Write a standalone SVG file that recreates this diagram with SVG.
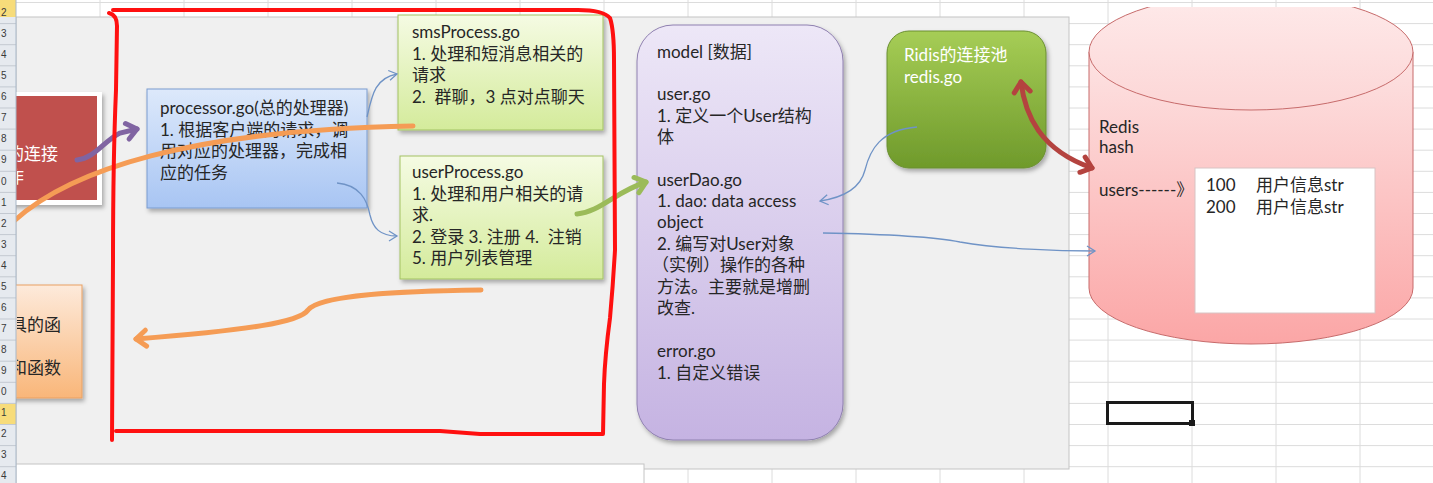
<svg xmlns="http://www.w3.org/2000/svg" width="1433" height="483" viewBox="0 0 1433 483">
<defs>
<style>
.t{font-family:Lato,"Noto Sans CJK SC","Liberation Sans",sans-serif;font-size:17px;fill:#262626}
.tw{font-family:Lato,"Noto Sans CJK SC","Liberation Sans",sans-serif;font-size:17px;fill:#ffffff}
.hdr{font-family:"Liberation Sans",sans-serif;font-size:10px;fill:#3a3a3a}
.grid line{stroke:#dcdcdc;stroke-width:1}
.thin{fill:none;stroke:#6f93c6;stroke-width:1.3}
.thick{fill:none;stroke-width:5;stroke-linecap:round}
.red{fill:none;stroke:#ff1010;stroke-width:4;stroke-linecap:round;stroke-linejoin:round}
</style>
<linearGradient id="gBlue" x1="0" y1="0" x2="0" y2="1"><stop offset="0" stop-color="#dde9fb"/><stop offset="1" stop-color="#a8c5f3"/></linearGradient>
<linearGradient id="gLime" x1="0" y1="0" x2="0" y2="1"><stop offset="0" stop-color="#f5fbe3"/><stop offset="1" stop-color="#d4eb9b"/></linearGradient>
<linearGradient id="gPurple" x1="0" y1="0" x2="0" y2="1"><stop offset="0" stop-color="#ede7f7"/><stop offset="1" stop-color="#c5b3e2"/></linearGradient>
<linearGradient id="gGreen" x1="0" y1="0" x2="0" y2="1"><stop offset="0" stop-color="#a6cd56"/><stop offset="1" stop-color="#6f9a2b"/></linearGradient>
<linearGradient id="gOrange" x1="0" y1="0" x2="0" y2="1"><stop offset="0" stop-color="#fdeadb"/><stop offset="1" stop-color="#f9b679"/></linearGradient>
<linearGradient id="gCyl" x1="0" y1="0" x2="0" y2="1"><stop offset="0" stop-color="#fde3e3"/><stop offset="1" stop-color="#fba6a6"/></linearGradient>
<linearGradient id="gCylTop" x1="0" y1="0" x2="0" y2="1"><stop offset="0" stop-color="#feeaea"/><stop offset="1" stop-color="#fcd6d6"/></linearGradient>
<filter id="sh" x="-20%" y="-20%" width="140%" height="140%"><feDropShadow dx="2" dy="3" stdDeviation="2" flood-color="#000" flood-opacity="0.3"/></filter>
<clipPath id="cylClip"><rect x="1060" y="7" width="373" height="476"/></clipPath>
<clipPath id="leftClip"><rect x="17" y="0" width="200" height="483"/></clipPath>
<marker id="aP" viewBox="-14 -12 18 24" markerWidth="18" markerHeight="24" refX="0" refY="0" orient="auto" markerUnits="userSpaceOnUse"><path d="M-10 -8 L0 0 L-10 8" fill="none" stroke="#8064a2" stroke-width="5" stroke-linecap="round" stroke-linejoin="round"/></marker>
<marker id="aO" viewBox="-14 -12 18 24" markerWidth="18" markerHeight="24" refX="0" refY="0" orient="auto" markerUnits="userSpaceOnUse"><path d="M-10 -8 L0 0 L-10 8" fill="none" stroke="#f59c55" stroke-width="5" stroke-linecap="round" stroke-linejoin="round"/></marker>
<marker id="aG" viewBox="-14 -12 18 24" markerWidth="18" markerHeight="24" refX="0" refY="0" orient="auto" markerUnits="userSpaceOnUse"><path d="M-10 -8 L0 0 L-10 8" fill="none" stroke="#9bbb59" stroke-width="5" stroke-linecap="round" stroke-linejoin="round"/></marker>
<marker id="aR" viewBox="-14 -12 18 24" markerWidth="18" markerHeight="24" refX="0" refY="0" orient="auto-start-reverse" markerUnits="userSpaceOnUse"><path d="M-10 -8 L0 0 L-10 8" fill="none" stroke="#b4433f" stroke-width="5" stroke-linecap="round" stroke-linejoin="round"/></marker>
<marker id="aB" viewBox="-10 -7 12 14" markerWidth="12" markerHeight="14" refX="0" refY="0" orient="auto" markerUnits="userSpaceOnUse"><path d="M-8 -5 L0 0 L-8 5" fill="none" stroke="#6f93c6" stroke-width="1.3"/></marker>
</defs>

<rect x="0" y="0" width="1433" height="483" fill="#ffffff"/>

<g class="grid">
<line x1="100" y1="0" x2="100" y2="483"/><line x1="184" y1="0" x2="184" y2="483"/><line x1="268" y1="0" x2="268" y2="483"/><line x1="352" y1="0" x2="352" y2="483"/><line x1="436" y1="0" x2="436" y2="483"/><line x1="520" y1="0" x2="520" y2="483"/><line x1="604" y1="0" x2="604" y2="483"/><line x1="688" y1="0" x2="688" y2="483"/><line x1="772" y1="0" x2="772" y2="483"/><line x1="856" y1="0" x2="856" y2="483"/><line x1="940" y1="0" x2="940" y2="483"/><line x1="1024" y1="0" x2="1024" y2="483"/><line x1="1108" y1="0" x2="1108" y2="483"/><line x1="1192" y1="0" x2="1192" y2="483"/><line x1="1276" y1="0" x2="1276" y2="483"/><line x1="1360" y1="0" x2="1360" y2="483"/>
<line x1="16" y1="2.5" x2="1433" y2="2.5"/><line x1="16" y1="23.6" x2="1433" y2="23.6"/><line x1="16" y1="44.7" x2="1433" y2="44.7"/><line x1="16" y1="65.8" x2="1433" y2="65.8"/><line x1="16" y1="86.9" x2="1433" y2="86.9"/><line x1="16" y1="108" x2="1433" y2="108"/><line x1="16" y1="129.1" x2="1433" y2="129.1"/><line x1="16" y1="150.2" x2="1433" y2="150.2"/><line x1="16" y1="171.3" x2="1433" y2="171.3"/><line x1="16" y1="192.4" x2="1433" y2="192.4"/><line x1="16" y1="213.5" x2="1433" y2="213.5"/><line x1="16" y1="234.6" x2="1433" y2="234.6"/><line x1="16" y1="255.7" x2="1433" y2="255.7"/><line x1="16" y1="276.8" x2="1433" y2="276.8"/><line x1="16" y1="297.9" x2="1433" y2="297.9"/><line x1="16" y1="319" x2="1433" y2="319"/><line x1="16" y1="340.1" x2="1433" y2="340.1"/><line x1="16" y1="361.2" x2="1433" y2="361.2"/><line x1="16" y1="382.3" x2="1433" y2="382.3"/><line x1="16" y1="403.4" x2="1433" y2="403.4"/><line x1="16" y1="424.5" x2="1433" y2="424.5"/><line x1="16" y1="445.6" x2="1433" y2="445.6"/><line x1="16" y1="466.7" x2="1433" y2="466.7"/>
</g>

<g id="panel">
<rect x="16" y="17" width="1053" height="452" fill="#f0f0f0" stroke="#c4c4c4" stroke-width="1"/>
<rect x="16" y="464" width="628" height="22" fill="#ffffff" stroke="#c4c4c4" stroke-width="1"/>
</g>

<g id="main-box">
<rect x="12" y="92" width="90" height="113" fill="#ffffff" filter="url(#sh)"/>
<rect x="12" y="96" width="85" height="104" fill="#c0504d"/>
<g clip-path="url(#leftClip)">
<text class="tw" x="58" y="160" text-anchor="end">的连接</text>
<text class="tw" x="24" y="183" text-anchor="end">作</text>
</g>
</g>

<g id="utils-box">
<rect x="10" y="285" width="72" height="113" fill="url(#gOrange)" stroke="#e9a062" stroke-width="1" filter="url(#sh)"/>
<g clip-path="url(#leftClip)">
<text class="t" x="61" y="331" text-anchor="end">具的函</text>
<text class="t" x="61" y="374" text-anchor="end">和函数</text>
</g>
</g>

<g id="processor">
<rect x="147" y="89" width="220" height="119" fill="url(#gBlue)" stroke="#7b9ccf" stroke-width="1" filter="url(#sh)"/>
<text class="t" x="160" y="114">processor.go(总的处理器)</text>
<text class="t" x="160" y="135.5">1. 根据客户端的请求，调</text>
<text class="t" x="160" y="157">用对应的处理器，完成相</text>
<text class="t" x="160" y="178.5">应的任务</text>
</g>

<g id="smsProcess">
<rect x="398" y="15" width="205" height="115" fill="url(#gLime)" stroke="#a3c262" stroke-width="1" filter="url(#sh)"/>
<text class="t" x="412" y="38">smsProcess.go</text>
<text class="t" x="412" y="59.5">1. 处理和短消息相关的</text>
<text class="t" x="412" y="81">请求</text>
<text class="t" x="412" y="102.5" xml:space="preserve">2.  群聊，3 点对点聊天</text>
</g>

<g id="userProcess">
<rect x="400" y="156" width="203" height="123" fill="url(#gLime)" stroke="#a3c262" stroke-width="1" filter="url(#sh)"/>
<text class="t" x="412" y="178">userProcess.go</text>
<text class="t" x="412" y="199.5">1. 处理和用户相关的请</text>
<text class="t" x="412" y="221">求.</text>
<text class="t" x="412" y="242.5" xml:space="preserve">2. 登录 3. 注册 4.  注销</text>
<text class="t" x="412" y="264">5. 用户列表管理</text>
</g>

<g id="model">
<rect x="637" y="25" width="206" height="415" rx="36" ry="36" fill="url(#gPurple)" stroke="#8f80b0" stroke-width="1" filter="url(#sh)"/>
<text class="t" x="657" y="58">model [数据]</text>
<text class="t" x="657" y="100">user.go</text>
<text class="t" x="657" y="122">1. 定义一个User结构</text>
<text class="t" x="657" y="143">体</text>
<text class="t" x="657" y="186">userDao.go</text>
<text class="t" x="657" y="207">1. dao: data access</text>
<text class="t" x="657" y="228">object</text>
<text class="t" x="657" y="250">2. 编写对User对象</text>
<text class="t" x="652" y="271">（实例）操作的各种</text>
<text class="t" x="657" y="293">方法。主要就是增删</text>
<text class="t" x="657" y="314">改查.</text>
<text class="t" x="657" y="357">error.go</text>
<text class="t" x="657" y="379">1. 自定义错误</text>
</g>

<g id="redis-pool">
<rect x="887" y="31" width="159" height="137" rx="22" ry="22" fill="url(#gGreen)" stroke="#6a8f30" stroke-width="1" filter="url(#sh)"/>
<text class="tw" x="904" y="61">Ridis的连接池</text>
<text class="tw" x="904" y="83">redis.go</text>
</g>

<g id="redis-db">
<g clip-path="url(#cylClip)">
<path d="M1089 52 L1089 288 A162 56 0 0 0 1413 288 L1413 52 Z" fill="url(#gCyl)" stroke="#c76b6b" stroke-width="1"/>
<ellipse cx="1251" cy="52" rx="162" ry="58" fill="url(#gCylTop)" stroke="#c76b6b" stroke-width="1"/>
</g>
<text class="t" x="1099" y="133">Redis</text>
<text class="t" x="1099" y="153">hash</text>
<text class="t" x="1099" y="196">users------》</text>
<rect x="1195" y="168" width="180" height="145" fill="#ffffff" stroke="#d8c4c4" stroke-width="1"/>
<text class="t" x="1206" y="191">100</text>
<text class="t" x="1256" y="191">用户信息str</text>
<text class="t" x="1206" y="213">200</text>
<text class="t" x="1256" y="213">用户信息str</text>
</g>

<g id="connectors">
<path class="thick" stroke="#8064a2" d="M77 160 C95 158 105 140 120 133 L137 129" marker-end="url(#aP)"/>
<path class="thick" stroke="#f59c55" d="M14 221 C70 170 190 130 413 126"/>
<path class="thick" stroke="#f59c55" d="M481 290 C400 291 320 295 308 310 C300 322 250 330 136 339" marker-end="url(#aO)"/>
<path class="thick" stroke="#9bbb59" d="M577 214 C600 212 615 192 646 182" marker-end="url(#aG)"/>
<path class="thick" stroke="#b4433f" d="M1021 82 C1025 115 1040 150 1092 168" marker-start="url(#aR)" marker-end="url(#aR)"/>
<path class="thin" d="M367 117 C372 95 375 78 397 74" marker-end="url(#aB)"/>
<path class="thin" d="M337 183 C360 185 367 200 370 215 C373 228 380 236 397 236" marker-end="url(#aB)"/>
<path class="thin" d="M917 127 C880 130 870 150 865 170 C860 190 840 198 820 201" marker-end="url(#aB)"/>
<path class="thin" d="M823 233 C880 234 930 236 960 242 C1000 249 1060 251 1095 251" marker-end="url(#aB)"/>
</g>

<g id="red-outline">
<path class="red" d="M109 13 Q117 15 117 26 L116 90 Q113 160 113 260 L112 440"/>
<path class="red" d="M113 10 L578 10 Q603 10 610 18 Q614 30 614 60 L615 250 Q613 285 610 318 Q605 355 604 384 L603 434 L480 434 L440 431 L116 431"/>
</g>

<g id="selection">
<rect x="1107.5" y="402.5" width="85" height="21" fill="none" stroke="#1a1a1a" stroke-width="3"/>
<rect x="1189" y="420" width="6" height="6" fill="#1a1a1a"/>
</g>

<g id="row-header">
<rect x="0" y="0" width="16" height="483" fill="#e6eaef"/>
<rect x="0" y="0" width="16" height="17" fill="#f7dc7a"/>
<rect x="0" y="403.4" width="16" height="21.1" fill="#f7dc7a"/>
<g stroke="#c3c9d1" stroke-width="1">
<line x1="0" y1="23.6" x2="16" y2="23.6"/><line x1="0" y1="44.7" x2="16" y2="44.7"/><line x1="0" y1="65.8" x2="16" y2="65.8"/><line x1="0" y1="86.9" x2="16" y2="86.9"/><line x1="0" y1="108" x2="16" y2="108"/><line x1="0" y1="129.1" x2="16" y2="129.1"/><line x1="0" y1="150.2" x2="16" y2="150.2"/><line x1="0" y1="171.3" x2="16" y2="171.3"/><line x1="0" y1="192.4" x2="16" y2="192.4"/><line x1="0" y1="213.5" x2="16" y2="213.5"/><line x1="0" y1="234.6" x2="16" y2="234.6"/><line x1="0" y1="255.7" x2="16" y2="255.7"/><line x1="0" y1="276.8" x2="16" y2="276.8"/><line x1="0" y1="297.9" x2="16" y2="297.9"/><line x1="0" y1="319" x2="16" y2="319"/><line x1="0" y1="340.1" x2="16" y2="340.1"/><line x1="0" y1="361.2" x2="16" y2="361.2"/><line x1="0" y1="382.3" x2="16" y2="382.3"/><line x1="0" y1="403.4" x2="16" y2="403.4"/><line x1="0" y1="424.5" x2="16" y2="424.5"/><line x1="0" y1="445.6" x2="16" y2="445.6"/><line x1="0" y1="466.7" x2="16" y2="466.7"/>
</g>
<line x1="16" y1="0" x2="16" y2="483" stroke="#a9b8c8" stroke-width="1"/>
<g class="hdr" text-anchor="end">
<text x="6.5" y="16">2</text><text x="6.5" y="37">3</text><text x="6.5" y="58">4</text><text x="6.5" y="79">5</text><text x="6.5" y="100">6</text><text x="6.5" y="121">7</text><text x="6.5" y="142">8</text><text x="6.5" y="163">9</text><text x="6.5" y="185">0</text><text x="6.5" y="206">1</text><text x="6.5" y="227">2</text><text x="6.5" y="248">3</text><text x="6.5" y="269">4</text><text x="6.5" y="290">5</text><text x="6.5" y="311">6</text><text x="6.5" y="332">7</text><text x="6.5" y="353">8</text><text x="6.5" y="374">9</text><text x="6.5" y="395">0</text><text x="6.5" y="416">1</text><text x="6.5" y="437">2</text><text x="6.5" y="458">3</text><text x="6.5" y="479">4</text>
</g>
</g>
</svg>
